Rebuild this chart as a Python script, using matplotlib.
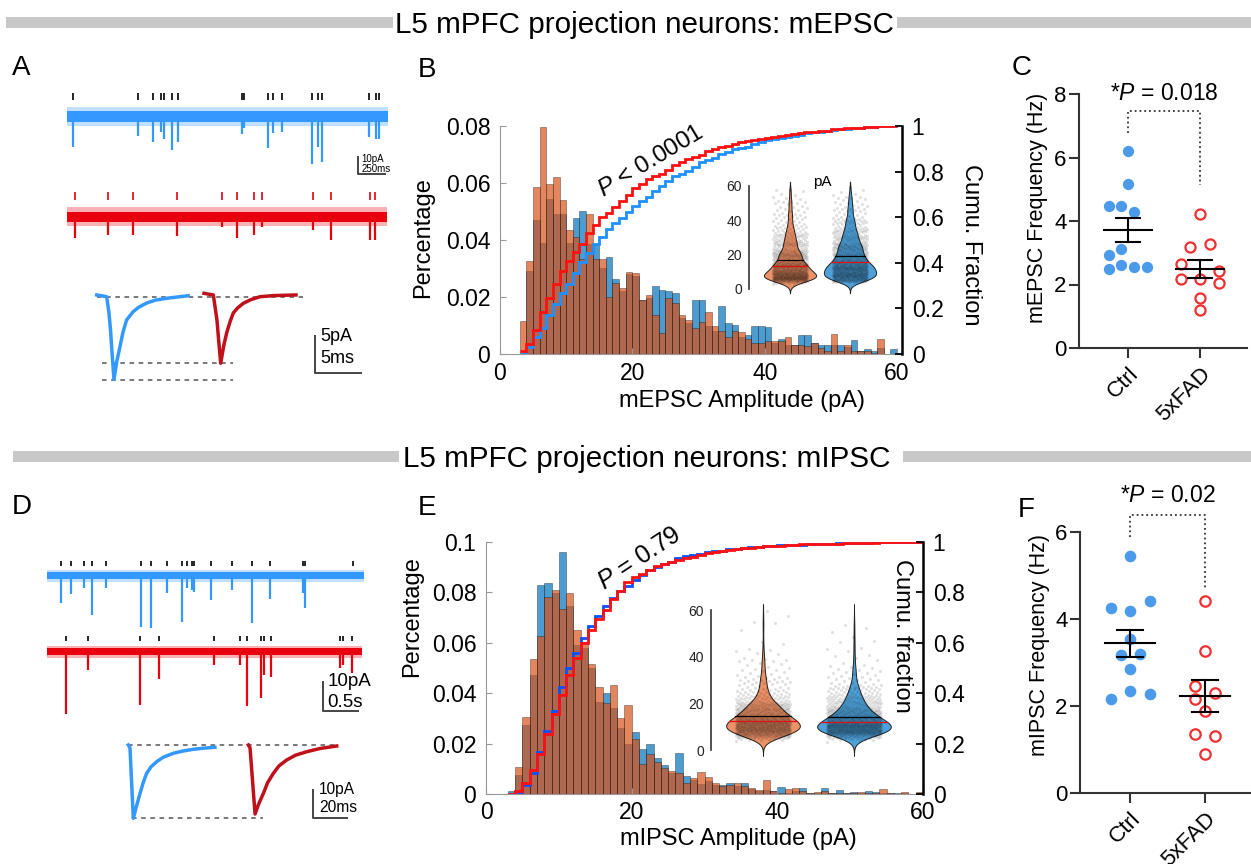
import numpy as np
import matplotlib
matplotlib.use("Agg")
import matplotlib.pyplot as plt
from matplotlib.patches import Rectangle

plt.rcParams['font.family'] = ['Liberation Sans', 'DejaVu Sans']
plt.rcParams['mathtext.fontset'] = 'custom'
plt.rcParams['mathtext.rm'] = 'Liberation Sans'
plt.rcParams['mathtext.it'] = 'Liberation Sans:italic'

W, H = 1251, 864

# ---------------- data ----------------
# A: example mEPSC sweeps -> event times (s) and event depth (pA)
epsc_ctrl_t = [0.061, 0.657, 0.794, 0.862, 0.893, 0.963, 1.024, 1.611, 1.627, 1.850,
               1.895, 1.978, 2.248, 2.308, 2.339, 2.773, 2.835, 2.865]
epsc_ctrl_amp = [16.0, 10.2, 13.7, 8.4, 11.9, 17.8, 13.7, 9.5, 6.0, 16.6,
                 8.9, 8.0, 25.5, 16.0, 24.1, 10.7, 11.9, 11.9]
epsc_fad_t = [0.076, 0.382, 0.608, 1.009, 1.428, 1.560, 1.718, 1.789, 2.257, 2.422, 2.783, 2.828]
epsc_fad_amp = [11.1, 9.8, 9.8, 10.3, 5.3, 11.6, 9.8, 5.3, 7.1, 15.7, 19.9, 16.4]
epsc_dur = [2.945, 2.936]
# averaged mEPSC (ms, pA)
avg_epsc_ctrl_t = [0, 1.07, 1.3, 1.48, 1.65, 1.85, 2.15, 2.5, 2.8, 3.2, 3.9, 4.5, 5.36, 6.3, 7.5, 9.8]
avg_epsc_ctrl_i = [0.23, 0, -2.0, -4.4, -7.5, -11.0, -8.6, -6.6, -4.8, -3.1, -2.0, -1.4, -0.84,
                   -0.45, -0.21, 0.13]
avg_epsc_fad_t = [0, 1.0, 1.39, 1.6, 1.79, 2.1, 2.43, 2.8, 3.14, 3.6, 4.21, 5.0, 6.0, 7.5, 9.86]
avg_epsc_fad_i = [0.45, 0.23, -3.1, -6.2, -8.84, -6.6, -4.8, -3.3, -2.16, -1.5, -0.88, -0.4, 0,
                  0.15, 0.23]

# D: example mIPSC sweeps
ipsc_ctrl_t = [0.194, 0.338, 0.518, 0.633, 0.824, 1.306, 1.449, 1.667, 1.883, 1.953,
               2.018, 2.050, 2.282, 2.569, 2.851, 3.101, 3.556, 3.588, 4.258]
ipsc_ctrl_amp = [9.2, 6.2, 4.2, 13.1, 4.2, 17.0, 17.3, 5.6, 15.3, 4.2,
                 4.8, 5.3, 8.1, 4.8, 15.9, 7.6, 5.9, 10.9, 1.2]
ipsc_fad_t = [0.268, 0.569, 1.296, 1.564, 2.328, 2.685, 2.778, 2.972, 3.018, 3.111,
              4.074, 4.119, 4.244]
ipsc_fad_amp = [20.9, 6.1, 17.8, 9.1, 4.4, 4.4, 18.0, 15.6, 7.7, 8.3, 5.6, 4.4, 7.2]
ipsc_dur = [4.407, 4.375]
avg_ipsc_ctrl_t = [0, 0.97, 2.86, 4.5, 6.69, 8.5, 10.5, 13.0, 16.2, 20.0, 25.7, 31.0, 37.1, 43.0, 49.5]
avg_ipsc_ctrl_i = [0, -1.0, -25.3, -21.5, -16.7, -13.0, -9.76, -7.5, -5.76, -4.2, -2.86, -2.1,
                   -1.48, -1.1, -0.79]
avg_ipsc_fad_t = [0, 0.97, 3.83, 5.8, 8.57, 11.0, 14.3, 17.5, 21.9, 27.0, 33.4, 41.0, 50.5]
avg_ipsc_fad_i = [0, -1.0, -23.8, -20.5, -16.7, -13.0, -9.76, -7.2, -5.17, -3.5, -2.31, -1.2, -0.34]

# B / E: amplitude histograms, 1 pA bins from 3 to 60 pA (fraction of events)
amp_edges = np.arange(3, 61)
mepsc_ctrl = [.0000, .0290, .0470, .0390, .0545, .0490, .0490, .0390, .0476, .0500,
              .0386, .0384, .0300, .0340, .0264, .0220, .0280, .0275, .0190, .0195,
              .0240, .0224, .0220, .0213, .0125, .0110, .0190, .0188, .0100, .0082,
              .0170, .0110, .0102, .0060, .0067, .0100, .0098, .0094, .0040, .0053,
              .0032, .0032, .0065, .0065, .0040, .0032, .0032, .0032, .0032, .0025,
              .0050, .0012, .0018, .0010, .0020, .0000, .0018]
mepsc_fad = [.0115, .0325, .0585, .0795, .0595, .0620, .0540, .0435, .0410, .0333,
             .0490, .0335, .0335, .0200, .0250, .0230, .0289, .0285, .0190, .0207,
             .0137, .0072, .0195, .0180, .0137, .0120, .0090, .0112, .0147, .0098,
             .0082, .0060, .0082, .0076, .0053, .0040, .0040, .0045, .0044, .0045,
             .0060, .0032, .0032, .0028, .0040, .0020, .0012, .0070, .0012, .0032,
             .0012, .0012, .0012, .0005, .0053, .0000, .0000]
mipsc_ctrl = [.0010, .0075, .0274, .0472, .0830, .0836, .0796, .0962, .0747, .0590,
              .0578, .0499, .0366, .0400, .0340, .0260, .0200, .0245, .0179, .0197,
              .0142, .0115, .0082, .0161, .0072, .0055, .0040, .0050, .0035, .0035,
              .0042, .0030, .0042, .0018, .0012, .0016, .0010, .0029, .0005, .0010,
              .0022, .0005, .0005, .0022, .0003, .0016, .0003, .0008, .0005, .0012,
              .0008, .0005, .0003, .0003, .0003, .0000, .0000]
mipsc_fad = [.0000, .0108, .0307, .0534, .0628, .0780, .0810, .0734, .0796, .0650,
             .0605, .0515, .0426, .0360, .0433, .0300, .0353, .0220, .0118, .0160,
             .0128, .0102, .0091, .0082, .0042, .0062, .0089, .0066, .0042, .0030,
             .0035, .0042, .0030, .0023, .0016, .0056, .0010, .0005, .0019, .0022,
             .0010, .0005, .0008, .0010, .0003, .0005, .0003, .0003, .0008, .0005,
             .0003, .0019, .0003, .0000, .0008, .0000, .0008]

# C / F: per-cell frequencies (Hz)
groups = ['Ctrl', '5xFAD']
mepsc_freq_ctrl = [6.20, 5.17, 4.48, 4.48, 4.29, 3.13, 2.93, 2.61, 2.48, 2.56, 2.56]
mepsc_freq_fad = [4.21, 3.19, 3.26, 2.66, 2.42, 2.16, 2.16, 2.06, 1.59, 1.19]
mipsc_freq_ctrl = [5.44, 4.42, 4.25, 4.18, 3.54, 3.18, 3.20, 2.86, 2.34, 2.28, 2.15]
mipsc_freq_fad = [4.42, 3.27, 2.45, 2.30, 2.15, 1.89, 1.36, 1.31, 0.89]
# horizontal scatter offsets (layout only)
mepsc_dx_ctrl = [0, 0, -.26, -.09, .09, -.09, -.26, -.09, -.26, .09, .26]
mepsc_dx_fad = [0, -.14, .14, -.26, .26, -.26, 0, .26, 0, 0]
mipsc_dx_ctrl = [0, .27, -.26, 0, 0, -.12, .13, 0, 0, .27, -.26]
mipsc_dx_fad = [0, 0, -.13, .13, -.13, 0, -.13, .13, 0]

BLUE_TR = '#3399FF'
RED_TR = '#E8000F'
RED_AVG = '#C0101A'
H_BLUE = (0, .447, .741, .7)
H_ORANGE = (.85, .325, .098, .7)
EDGE = (0, 0, 0, .45)

fig = plt.figure(figsize=(W / 100, H / 100), dpi=100)


def fbox(x0, y0, x1, y1):
    return [x0 / W, 1 - y1 / H, (x1 - x0) / W, (y1 - y0) / H]


def ftxt(x, y, s, **kw):
    fig.text(x / W, 1 - y / H, s, **kw)


def trace_ax(x0, y0, x1, y1, xorg, xs, yorg, ys):
    ax = fig.add_axes(fbox(x0, y0, x1, y1))
    ax.set_xlim((x0 - xorg) / xs, (x1 - xorg) / xs)
    ax.set_ylim(-(y1 - yorg) / ys, (yorg - y0) / ys)
    ax.axis('off')
    return ax


def raw_trace(ax, dur, ev_t, ev_a, base, noise, color, tick_color, tick_lo, tick_hi):
    ax.fill_between([0, dur], base - 1.8 * noise, base + 1.8 * noise, color=color, alpha=0.3, lw=0)
    ax.fill_between([0, dur], base - noise, base + noise, color=color, lw=0)
    ax.vlines(ev_t, base - np.asarray(ev_a), base, color=color, lw=1.6)
    ax.vlines(ev_t, base + tick_lo, base + tick_hi, color=tick_color, lw=1.2)


def scale_bar(ax, x, y, dx, dy, lab1, lab2, fs, tx, ty1, ty2, color='#444'):
    ax.plot([x, x, x + dx], [y + dy, y, y], color=color, lw=1.4, solid_capstyle='butt')
    ax.text(tx, ty1, lab1, fontsize=fs, ha='left', va='center')
    ax.text(tx, ty2, lab2, fontsize=fs, ha='left', va='center')


def hist_panel(x0, y0, x1, y1, xmax, ymax, rmax, ctrl, fad, blue_cdf, yticks, ylabs, xpad):
    ax = fig.add_axes(fbox(x0, y0, x1, y1))
    ax.bar(amp_edges[:-1], ctrl, width=1, align='edge', color=H_BLUE, edgecolor=EDGE, lw=0.5)
    ax.bar(amp_edges[:-1], fad, width=1, align='edge', color=H_ORANGE, edgecolor=EDGE, lw=0.5)
    ax.set_xlim(0, xmax)
    ax.set_ylim(0, ymax)
    ax.set_yticks(yticks)
    ax.set_yticklabels(ylabs)
    ax.set_xticks([0, 20, 40, 60])
    ax.set_xticklabels(['0', '20', '40', '60'])
    for s in ['top', 'right']:
        ax.spines[s].set_visible(False)
    for s in ['left', 'bottom']:
        ax.spines[s].set_color('#999999')
    ax.tick_params(direction='in', length=4, color='#999999', labelsize=16.5)
    ax.tick_params(axis='y', pad=7)
    ax.tick_params(axis='x', pad=xpad)
    ax2 = ax.twinx()
    ax2.stairs(np.cumsum(ctrl) / np.sum(ctrl), amp_edges, baseline=None, color=blue_cdf, lw=2)
    ax2.stairs(np.cumsum(fad) / np.sum(fad), amp_edges, baseline=None, color='#FF1010', lw=2)
    ax2.set_ylim(0, rmax)
    ax2.set_yticks([0, .2, .4, .6, .8, 1])
    ax2.set_yticklabels(['0', '0.2', '0.4', '0.6', '0.8', '1'], va='center_baseline')
    for s in ['top', 'left', 'bottom']:
        ax2.spines[s].set_visible(False)
    ax2.spines['right'].set_linewidth(1.8)
    ax2.tick_params(direction='in', length=5, width=1.3, labelsize=16.5, pad=7)
    return ax, ax2


def violin_inset(x0, y0, x1, y1, x_spine, y_zero, pps, pos_px):
    unit = pos_px[1] - pos_px[0]
    ax = fig.add_axes(fbox(x0, y0, x1, y1))
    ax.set_xlim(1 + (x0 - pos_px[0]) / unit, 1 + (x1 - pos_px[0]) / unit)
    ax.set_ylim(-(y1 - y_zero) / pps, (y_zero - y0) / pps)
    ax.patch.set_visible(False)
    for s in ['top', 'right', 'bottom']:
        ax.spines[s].set_visible(False)
    ax.spines['left'].set_position(('data', 1 + (x_spine - pos_px[0]) / unit))
    ax.spines['left'].set_bounds(0, 60)
    ax.spines['left'].set_color('#333333')
    ax.spines['left'].set_linewidth(1.2)
    ax.set_xticks([])
    ax.set_yticks([0, 20, 40, 60])
    ax.tick_params(axis='y', length=0, labelsize=10, pad=5, labelcolor='#222222')
    return ax


def draw_violins(ax, hists, colors, wd, jit, npts, bw):
    centers = amp_edges[:-1] + 0.5
    grid = np.linspace(-2.5, 62.5, 500)
    for k, (vals, col) in enumerate(zip(hists, colors)):
        pos = k + 1
        w = np.asarray(vals)
        dens = (w[:, None] * np.exp(-0.5 * ((grid[None, :] - centers[:, None]) / bw) ** 2)).sum(0)
        hw = dens / dens.max() * wd / 2
        ax.fill_betweenx(grid, pos - hw, pos + hw, facecolor=col, edgecolor='#222222', lw=0.7, zorder=1)
        counts = np.round(w / w.sum() * npts).astype(int)
        ys = np.concatenate([lo + (np.arange(c) + 0.5) / c
                             for lo, c in zip(amp_edges[:-1], counts) if c > 0])
        frac = (np.arange(len(ys)) * 0.6180339887) % 1
        ax.scatter(pos + jit * (2 * frac - 1), ys, s=5, color='k', alpha=0.12, lw=0, zorder=2)
        mean = (centers * w).sum() / w.sum()
        med = np.interp(0.5, np.cumsum(w) / w.sum(), amp_edges[1:])
        for lvl, lc in [(mean, 'k'), (med, '#E01010')]:
            h = np.interp(lvl, grid, hw)
            ax.plot([pos - h, pos + h], [lvl, lvl], color=lc, lw=0.9, zorder=3)


def freq_panel(x0, y0, x1, y1, xlim, ymax, yticks, ctrl, dxc, fad, dxf, brk, ptxt, pty, ms):
    ax = fig.add_axes(fbox(x0, y0, x1, y1))
    ax.scatter(1 + np.array(dxc), ctrl, s=ms, color='#4C9BEB', lw=0, zorder=3, clip_on=False)
    ax.scatter(2 + np.array(dxf), fad, s=ms * 0.8, facecolor='white', edgecolor='#F03030',
               lw=1.6, zorder=3, clip_on=False)
    for pos, vals in [(1, ctrl), (2, fad)]:
        m = np.mean(vals)
        se = np.std(vals, ddof=1) / np.sqrt(len(vals))
        ax.plot([pos - .33, pos + .33], [m, m], color='k', lw=1.5, zorder=4)
        ax.plot([pos, pos], [m - se, m + se], color='k', lw=1.5, zorder=4)
        ax.plot([pos - .17, pos + .17], [m + se, m + se], color='k', lw=1.5, zorder=4)
        ax.plot([pos - .17, pos + .17], [m - se, m - se], color='k', lw=1.5, zorder=4)
    ax.plot([1, 1, 2, 2], brk, ls=':', color='#333333', lw=1.3, clip_on=False)
    ax.text(1.5, pty, ptxt, ha='center', va='center', fontsize=16.5, clip_on=False)
    ax.set_xlim(*xlim)
    ax.set_ylim(0, ymax)
    ax.set_yticks(yticks)
    ax.set_xticks([1, 2])
    ax.set_xticklabels(groups, rotation=45, ha='right', rotation_mode='anchor')
    for s in ['top', 'right']:
        ax.spines[s].set_visible(False)
    for s in ['left', 'bottom']:
        ax.spines[s].set_linewidth(1.5)
        ax.spines[s].set_color('#333333')
    ax.tick_params(direction='out', length=7, width=1.5, color='#333333', labelsize=16, pad=2)
    ax.tick_params(axis='x', pad=4)
    return ax


# ---------------- headers & panel letters ----------------
for (x0, y0, x1, y1) in [(6, 17, 393, 28), (897, 17, 1251, 28),
                         (13, 451, 399, 462), (903, 451, 1251, 462)]:
    fig.add_artist(Rectangle((x0 / W, 1 - y1 / H), (x1 - x0) / W, (y1 - y0) / H,
                             transform=fig.transFigure, color='#C8C8C8', lw=0))
ftxt(395, 33, 'L5 mPFC projection neurons: mEPSC', fontsize=21.3, ha='left', va='baseline')
ftxt(403, 467, 'L5 mPFC projection neurons: mIPSC', fontsize=21.3, ha='left', va='baseline')
for lab, x, y in [('A', 21, 68), ('B', 427, 70), ('C', 1022, 68),
                  ('D', 22, 507), ('E', 427, 508), ('F', 1026, 510)]:
    ftxt(x, y, lab, fontsize=20, ha='center', va='center')

# ---------------- A ----------------
axa = trace_ax(55, 85, 400, 240, 66.7, 109, 116.7, 1.87)
raw_trace(axa, epsc_dur[0], epsc_ctrl_t, epsc_ctrl_amp, 0, 2.8, BLUE_TR, 'k', 9, 12.5)
raw_trace(axa, epsc_dur[1], epsc_fad_t, epsc_fad_amp, -53.5, 2.8, RED_TR, RED_TR, 9, 13)
scale_bar(axa, 2.675, -30.8, 0.25, 10, '10pA', '250ms', 7, 2.705, -22.4, -28.2)

axa2 = trace_ax(90, 285, 370, 390, 96.7, 9.33, 296.7, 7.53)
axa2.plot(avg_epsc_ctrl_t, avg_epsc_ctrl_i, color=BLUE_TR, lw=2.5)
axa2.plot(np.array(avg_epsc_fad_t) + 11.5, avg_epsc_fad_i, color=RED_AVG, lw=2.5)
axa2.plot([0, 22.1], [0, 0], ls=(0, (3, 3)), color='#555555', lw=1.1, zorder=0)
for lvl in [min(avg_epsc_ctrl_i), min(avg_epsc_fad_i)]:
    axa2.plot([0.55, 14.6], [lvl, lvl], ls=(0, (3, 3)), color='#555555', lw=1.1, zorder=0)
scale_bar(axa2, 23.4, -10.1, 5, 5, '5pA', '5ms', 13, 24.0, -5.35, -8.27)

# ---------------- D ----------------
axd = trace_ax(40, 550, 380, 725, 46.7, 72, 575.7, 3.0)
raw_trace(axd, ipsc_dur[0], ipsc_ctrl_t, ipsc_ctrl_amp, 0, 1.1, BLUE_TR, 'k', 3.2, 4.8)
raw_trace(axd, ipsc_dur[1], ipsc_fad_t, ipsc_fad_amp, -25.33, 1.1, RED_TR, 'k', 3.6, 5.2)
scale_bar(axd, 3.838, -45.1, 0.5, 10, '10pA', '0.5s', 13.5, 3.9, -35.3, -42.4)

axd2 = trace_ax(120, 735, 370, 830, 128.3, 1.75, 745, 2.9)
axd2.plot(avg_ipsc_ctrl_t, avg_ipsc_ctrl_i, color=BLUE_TR, lw=2.5)
axd2.plot(np.array(avg_ipsc_fad_t) + 68.6, avg_ipsc_fad_i, color=RED_AVG, lw=2.5)
axd2.plot([0, 120], [0, 0], ls=(0, (3, 3)), color='#555555', lw=1.1, zorder=0)
axd2.plot([1.9, 77.1], [min(avg_ipsc_ctrl_i)] * 2, ls=(0, (3, 3)), color='#555555', lw=1.1, zorder=0)
scale_bar(axd2, 105.7, -25.3, 20, 10, '10pA', '20ms', 11.2, 109, -15.4, -21.7)

# ---------------- B ----------------
hist_panel(500, 126, 902, 354, 60.75, 0.08, 1.0, mepsc_ctrl, mepsc_fad, '#1E90FF',
           [0, .02, .04, .06, .08], ['0', '0.02', '0.04', '0.06', '0.08'], 6)
ftxt(423, 238, 'Percentage', fontsize=17, rotation=90, ha='center', va='center')
ftxt(742, 401, 'mEPSC Amplitude (pA)', fontsize=17, ha='center', va='center')
ftxt(971, 245, 'Cumu. Fraction', fontsize=17, rotation=270, ha='center', va='center')
ftxt(651, 162, r'$P$ < 0.0001', fontsize=17.5, rotation=31, ha='center', va='center')
axbi = violin_inset(740, 175, 890, 300, 749, 289, 1.717, (790, 850))
draw_violins(axbi, [mepsc_fad, mepsc_ctrl], ['#EC9268', '#4EA0D8'], 0.87, 0.29, 650, 2.2)
ftxt(822, 182, 'pA', fontsize=11, ha='center', va='center')

# ---------------- E ----------------
hist_panel(486, 542, 923, 794, 60, 0.1, 0.98, mipsc_ctrl, mipsc_fad, '#0A50FF',
           [0, .02, .04, .06, .08, .1], ['0', '0.02', '0.04', '0.06', '0.08', '0.1'], 5)
ftxt(412, 617, 'Percentage', fontsize=17, rotation=90, ha='center', va='center')
ftxt(738, 839, 'mIPSC Amplitude (pA)', fontsize=17, ha='center', va='center')
ftxt(902, 636, 'Cumu. fraction', fontsize=17, rotation=270, ha='center', va='center')
ftxt(640, 558, r'$P$ = 0.79', fontsize=18, rotation=33.5, ha='center', va='center')
axei = violin_inset(700, 595, 905, 762, 711, 750, 2.333, (763, 854))
draw_violins(axei, [mipsc_fad, mipsc_ctrl], ['#EC9268', '#4EA0D8'], 0.81, 0.3, 800, 2.2)

# ---------------- C ----------------
freq_panel(1079, 94, 1247, 348, (0.32, 2.653), 8, [0, 2, 4, 6, 8],
           mepsc_freq_ctrl, mepsc_dx_ctrl, mepsc_freq_fad, mepsc_dx_fad,
           [6.76, 7.48, 7.48, 5.13], r'*$P$ = 0.018', 8.03, 66)
ftxt(1037, 208, 'mEPSC Frequency (Hz)', fontsize=15.5, rotation=90, ha='center', va='center')

# ---------------- F ----------------
freq_panel(1080, 532, 1251, 793, (0.333, 2.613), 6, [0, 2, 4, 6],
           mipsc_freq_ctrl, mipsc_dx_ctrl, mipsc_freq_fad, mipsc_dx_fad,
           [5.88, 6.40, 6.40, 4.70], r'*$P$ = 0.02', 6.85, 70)
ftxt(1039, 645, 'mIPSC Frequency (Hz)', fontsize=15.5, rotation=90, ha='center', va='center')

fig.savefig('out.png', dpi=100)
